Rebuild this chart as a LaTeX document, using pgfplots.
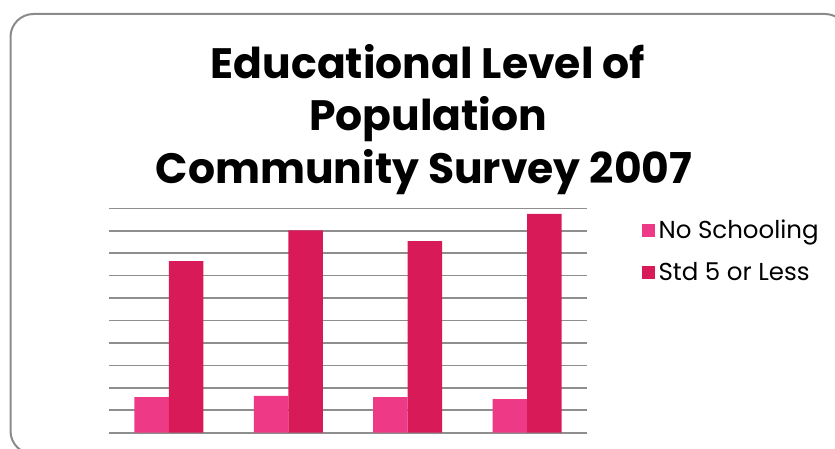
\documentclass[border=0pt]{standalone}
\usepackage{fontspec}
\setmainfont{Poppins}
\usepackage{pgfplots}
\pgfplotsset{compat=1.18}
\definecolor{pinkA}{HTML}{EE3A86}
\definecolor{redB}{HTML}{D81B58}
\definecolor{gridg}{HTML}{8E8E8E}
\definecolor{frameg}{HTML}{8A8A8A}
\begin{document}
\begin{tikzpicture}
\useasboundingbox (0pt,0pt) rectangle (835pt,448pt);
\clip (0pt,0pt) rectangle (835pt,448pt);
\draw[frameg, line width=2pt, rounded corners=23pt] (10.5pt,434pt) rectangle (848pt,-6pt);
\node[anchor=base, font=\fontsize{42.5}{50}\selectfont\bfseries, inner sep=0pt] at (428pt,{448pt-78.3pt}) {Educational Level of};
\node[anchor=base, font=\fontsize{42.5}{50}\selectfont\bfseries, inner sep=0pt] at (428pt,{448pt-130.5pt}) {Population};
\node[anchor=base, font=\fontsize{42.5}{50}\selectfont\bfseries, inner sep=0pt] at (424pt,{448pt-183pt}) {Community Survey 2007};
\begin{axis}[
  at={(109.3pt,15.3pt)}, anchor=south west,
  scale only axis, width=477.4pt, height=224.4pt,
  xmin=0.5, xmax=4.5, ymin=0, ymax=10,
  ybar=0pt, bar width=34.5pt,
  xtick=\empty, ytick={0,1,...,10}, yticklabels={},
  major tick length=0pt,
  ymajorgrids, grid style={gridg, line width=1.6pt},
  axis line style={draw=none},
  legend style={at={(1.115,0.81)}, anchor=west, draw=none, fill=none,
    inner sep=0pt, outer sep=0pt, row sep=20pt,
    font=\fontsize{24.5}{29}\selectfont,
    nodes={inner sep=1pt}},
  legend cell align=left,
  legend image code/.code={\fill[#1] (0pt,-6.5pt) rectangle (13pt,6.5pt); \path (16pt,0pt);},
]
\addplot[fill=pinkA, draw=none] coordinates {(1,1.59) (2,1.64) (3,1.59) (4,1.50)};
\addplot[fill=redB, draw=none] coordinates {(1,7.65) (2,9.02) (3,8.54) (4,9.75)};
\legend{No Schooling, Std 5 or Less}
\end{axis}
\end{tikzpicture}
\end{document}
